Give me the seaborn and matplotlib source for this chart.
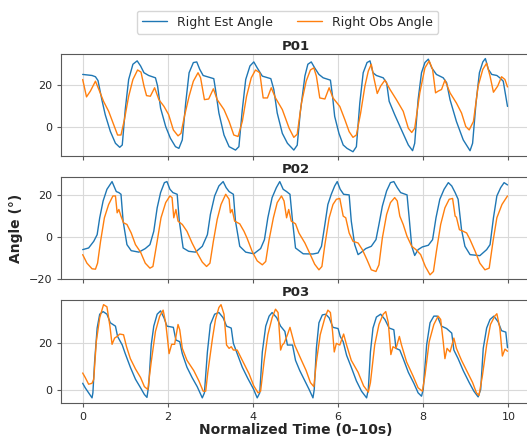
import matplotlib
matplotlib.use("Agg")
import matplotlib.pyplot as plt
from matplotlib.ticker import MultipleLocator
import seaborn as sns

# P01 - estimated / observed right angle (deg), time in normalized seconds
p01_est_t = [0.00, 0.22, 0.30, 0.36, 0.45, 0.53, 0.65, 0.77, 0.87, 0.93,
             1.00, 1.08, 1.18, 1.28, 1.36, 1.44, 1.55, 1.71, 1.76, 1.83,
             1.95, 2.06, 2.18, 2.26, 2.34, 2.42, 2.50, 2.60, 2.68, 2.75,
             2.83, 3.08, 3.12, 3.20, 3.32, 3.44, 3.59, 3.67, 3.75, 3.83,
             3.93, 4.02, 4.10, 4.22, 4.42, 4.49, 4.57, 4.69, 4.81, 4.96,
             5.04, 5.11, 5.22, 5.29, 5.37, 5.45, 5.55, 5.65, 5.82, 5.87,
             5.92, 6.02, 6.12, 6.21, 6.35, 6.43, 6.51, 6.59, 6.68, 6.75,
             6.82, 6.90, 7.06, 7.14, 7.20, 7.33, 7.49, 7.65, 7.75, 7.80,
             7.88, 7.96, 8.04, 8.12, 8.20, 8.31, 8.47, 8.55, 8.63, 8.78,
             8.94, 9.10, 9.16, 9.24, 9.32, 9.40, 9.46, 9.53, 9.61, 9.73,
             9.80, 9.88, 9.98]
p01_est = [24.9, 24.4, 23.8, 22.0, 13.0, 5.9, -2.0, -7.6, -9.5, -8.4,
           8.3, 22.5, 29.7, 31.3, 28.9, 25.7, 24.4, 23.3, 19.4, 9.0,
           0.3, -5.2, -9.2, -10.0, -6.0, 11.4, 25.7, 30.5, 30.8, 27.3,
           24.4, 22.9, 17.8, 6.7, -3.7, -9.2, -10.8, -9.2, 8.3, 22.5,
           28.9, 30.8, 28.0, 24.1, 22.9, 17.8, 6.7, -2.9, -7.6, -10.8,
           -8.5, 6.7, 24.1, 29.7, 30.8, 28.0, 24.9, 23.3, 22.2, 14.6,
           5.1, -2.9, -8.4, -10.0, -11.6, -9.2, 11.4, 25.7, 30.5, 31.3,
           25.7, 24.4, 23.3, 21.0, 12.2, 5.9, -1.3, -8.4, -11.1, -7.6,
           13.0, 25.7, 30.5, 32.1, 28.0, 24.9, 23.3, 21.0, 13.0, 2.7,
           -6.0, -11.1, -7.6, 11.4, 25.7, 30.8, 32.4, 27.3, 24.9, 24.4,
           23.3, 21.7, 9.8]
p01_obs_t = [0.00, 0.09, 0.18, 0.30, 0.38, 0.49, 0.61, 0.73, 0.82, 0.90,
             0.98, 1.08, 1.18, 1.29, 1.37, 1.44, 1.50, 1.59, 1.69, 1.79,
             1.91, 2.02, 2.13, 2.24, 2.31, 2.39, 2.50, 2.60, 2.71, 2.77,
             2.86, 2.96, 3.07, 3.16, 3.32, 3.44, 3.55, 3.65, 3.75, 3.85,
             3.96, 4.06, 4.16, 4.24, 4.34, 4.43, 4.53, 4.69, 4.85, 4.96,
             5.04, 5.14, 5.25, 5.35, 5.43, 5.49, 5.57, 5.69, 5.79, 5.88,
             6.04, 6.16, 6.26, 6.35, 6.43, 6.53, 6.63, 6.71, 6.78, 6.84,
             6.92, 7.00, 7.10, 7.22, 7.37, 7.53, 7.65, 7.73, 7.80, 7.92,
             8.04, 8.14, 8.22, 8.29, 8.35, 8.43, 8.51, 8.63, 8.78, 8.90,
             9.00, 9.08, 9.18, 9.29, 9.40, 9.49, 9.57, 9.65, 9.75, 9.84,
             9.92, 9.98]
p01_obs = [22.5, 14.3, 17.0, 21.7, 17.8, 12.2, 7.5, 1.1, -3.7, -3.7,
           3.5, 14.6, 22.5, 27.0, 26.0, 19.4, 14.9, 14.6, 18.6, 13.0,
           9.8, 5.9, -1.3, -4.1, -2.9, 5.1, 14.6, 21.7, 25.7, 23.3,
           13.0, 13.3, 18.1, 13.0, 8.3, 2.7, -3.7, -4.4, 2.7, 14.6,
           23.3, 27.0, 25.7, 13.8, 13.8, 18.6, 13.8, 8.3, -0.5, -4.8,
           -3.3, 11.4, 21.7, 27.0, 28.0, 24.1, 13.8, 13.3, 18.6, 13.8,
           9.8, 3.5, -2.1, -4.8, -3.7, 6.7, 19.4, 26.5, 29.7, 23.3,
           15.9, 19.4, 22.2, 17.8, 13.0, 7.5, -0.5, -2.5, -0.5, 16.2,
           28.0, 31.3, 27.3, 16.2, 17.0, 17.8, 22.2, 16.2, 11.4, 6.7,
           0.3, -1.3, 2.7, 19.4, 27.3, 30.2, 24.1, 16.5, 19.4, 23.8,
           22.5, 19.0]

# P02
p02_est_t = [0.00, 0.14, 0.26, 0.34, 0.40, 0.48, 0.57, 0.69, 0.75, 0.79,
             0.85, 0.90, 0.95, 1.04, 1.14, 1.32, 1.47, 1.58, 1.67, 1.75,
             1.83, 1.92, 1.98, 2.05, 2.12, 2.22, 2.27, 2.36, 2.49, 2.65,
             2.81, 2.93, 3.00, 3.10, 3.20, 3.30, 3.37, 3.44, 3.54, 3.59,
             3.69, 3.83, 4.02, 4.18, 4.27, 4.35, 4.45, 4.55, 4.63, 4.71,
             4.79, 4.87, 4.93, 5.00, 5.18, 5.41, 5.53, 5.61, 5.69, 5.76,
             5.84, 5.92, 5.98, 6.05, 6.13, 6.26, 6.31, 6.39, 6.47, 6.55,
             6.65, 6.78, 6.89, 6.96, 7.04, 7.14, 7.23, 7.31, 7.39, 7.47,
             7.62, 7.67, 7.73, 7.80, 7.88, 7.98, 8.12, 8.22, 8.30, 8.39,
             8.49, 8.59, 8.67, 8.75, 8.82, 8.90, 8.98, 9.10, 9.33, 9.49,
             9.57, 9.65, 9.73, 9.82, 9.90, 9.98]
p02_est = [-6.1, -5.3, -2.1, 1.1, 9.2, 17.3, 22.9, 26.6, 23.7, 21.8,
           21.3, 20.5, 7.6, -3.7, -6.6, -7.3, -5.6, -3.7, 2.7, 14.0,
           21.3, 26.1, 26.6, 22.9, 21.3, 20.5, 7.6, -5.3, -6.9, -7.3,
           -4.5, 1.1, 10.8, 19.7, 24.5, 26.6, 23.7, 21.8, 20.5, 7.6,
           -4.5, -7.3, -8.1, -5.6, -1.3, 9.2, 18.9, 23.7, 26.6, 22.9,
           21.8, 20.5, 7.6, -5.3, -8.1, -8.2, -7.7, -4.5, 6.0, 15.6,
           20.5, 24.5, 26.6, 22.9, 20.5, 20.2, 7.6, -3.7, -8.5, -7.3,
           -5.6, -4.5, -1.3, 6.0, 14.8, 22.1, 26.1, 26.6, 23.7, 21.3,
           20.2, 9.2, -4.5, -8.9, -6.1, -4.8, -4.0, -1.3, 9.2, 18.1,
           22.9, 26.1, 24.5, 21.3, 18.1, 3.5, -4.5, -8.5, -9.0, -6.1,
           -3.7, 9.2, 19.7, 23.7, 26.1, 25.0]
p02_obs_t = [0.00, 0.10, 0.22, 0.30, 0.35, 0.42, 0.51, 0.61, 0.71, 0.77,
             0.81, 0.85, 0.90, 0.96, 1.04, 1.14, 1.24, 1.36, 1.47, 1.58,
             1.65, 1.75, 1.84, 1.95, 2.05, 2.10, 2.14, 2.19, 2.24, 2.34,
             2.45, 2.57, 2.69, 2.81, 2.91, 2.99, 3.07, 3.16, 3.25, 3.36,
             3.44, 3.47, 3.51, 3.57, 3.69, 3.79, 3.86, 3.98, 4.10, 4.22,
             4.30, 4.38, 4.48, 4.57, 4.67, 4.73, 4.79, 4.84, 4.90, 5.00,
             5.08, 5.22, 5.33, 5.45, 5.55, 5.62, 5.69, 5.79, 5.88, 5.96,
             6.04, 6.12, 6.18, 6.26, 6.35, 6.47, 6.57, 6.68, 6.78, 6.89,
             6.96, 7.04, 7.14, 7.23, 7.33, 7.39, 7.45, 7.53, 7.62, 7.73,
             7.83, 7.94, 8.05, 8.16, 8.24, 8.31, 8.41, 8.51, 8.61, 8.69,
             8.75, 8.78, 8.85, 8.94, 9.02, 9.10, 9.22, 9.33, 9.45, 9.55,
             9.64, 9.73, 9.85, 9.98]
p02_obs = [-8.5, -12.6, -15.3, -15.5, -12.6, -2.1, 9.2, 15.6, 19.7, 19.7,
           11.6, 13.2, 10.0, 6.8, 6.0, 1.9, -3.7, -7.3, -12.6, -15.0,
           -14.2, -2.1, 9.2, 16.5, 19.7, 18.9, 9.2, 13.2, 7.6, 6.0,
           2.7, -2.9, -7.7, -12.1, -14.2, -12.6, -2.1, 8.4, 15.6, 20.5,
           18.1, 11.6, 13.2, 7.6, 6.3, 2.7, -0.5, -6.9, -11.5, -13.4,
           -11.8, -1.3, 9.2, 16.5, 19.7, 17.3, 9.2, 13.2, 7.6, 6.3,
           1.9, -2.9, -7.7, -13.1, -15.8, -14.2, -3.7, 9.2, 15.6, 18.1,
           18.5, 10.0, 9.2, 1.9, -2.1, -2.9, -6.1, -11.0, -15.8, -16.6,
           -13.4, -0.5, 10.8, 16.5, 18.9, 17.3, 10.0, 6.0, 0.3, -4.5,
           -6.1, -8.5, -14.2, -18.2, -16.6, -6.9, 6.0, 14.0, 18.1, 18.5,
           10.0, 9.5, 3.5, 2.7, 1.9, -1.3, -6.9, -12.6, -15.8, -15.0,
           -2.1, 9.2, 15.6, 19.7]

# P03
p03_est_t = [0.00, 0.06, 0.14, 0.22, 0.24, 0.28, 0.34, 0.40, 0.48, 0.57,
             0.65, 0.77, 0.82, 0.93, 1.00, 1.12, 1.24, 1.36, 1.45, 1.51,
             1.55, 1.61, 1.67, 1.75, 1.83, 1.91, 1.98, 2.13, 2.19, 2.28,
             2.34, 2.45, 2.57, 2.69, 2.81, 2.86, 2.93, 3.00, 3.10, 3.20,
             3.30, 3.38, 3.49, 3.54, 3.63, 3.75, 3.88, 4.01, 4.10, 4.16,
             4.22, 4.30, 4.38, 4.45, 4.56, 4.65, 4.75, 4.81, 4.93, 5.00,
             5.10, 5.22, 5.32, 5.41, 5.44, 5.49, 5.55, 5.63, 5.71, 5.79,
             5.88, 6.00, 6.05, 6.12, 6.20, 6.31, 6.43, 6.55, 6.67, 6.71,
             6.76, 6.82, 6.90, 7.00, 7.10, 7.20, 7.31, 7.36, 7.45, 7.53,
             7.65, 7.78, 7.88, 7.96, 8.00, 8.08, 8.16, 8.25, 8.33, 8.43,
             8.55, 8.67, 8.72, 8.82, 8.94, 9.08, 9.19, 9.29, 9.35, 9.41,
             9.49, 9.57, 9.66, 9.76, 9.84, 9.94, 9.98]
p03_est = [3.0, 1.1, -1.0, -3.1, -1.0, 11.9, 26.1, 31.9, 33.0, 31.9,
           28.3, 26.9, 22.6, 19.0, 15.4, 9.7, 4.7, 1.1, -1.7, -2.9,
           1.9, 19.0, 26.9, 31.9, 33.3, 30.4, 26.9, 26.4, 21.1, 20.4,
           15.4, 9.7, 5.4, 1.6, -3.1, -1.0, 16.1, 27.6, 31.9, 32.6,
           30.4, 26.9, 26.1, 19.7, 15.4, 9.7, 5.0, 0.7, -3.1, -1.0,
           16.1, 26.9, 31.1, 32.6, 30.4, 26.9, 24.7, 19.0, 19.0, 12.6,
           8.3, 4.0, 0.4, -3.1, 0.4, 17.6, 28.3, 31.6, 31.9, 30.4,
           26.4, 25.9, 22.6, 20.4, 14.7, 9.7, 4.0, -0.3, -3.1, 0.4,
           16.1, 26.1, 30.7, 31.9, 29.7, 26.1, 25.4, 17.6, 16.9, 13.3,
           7.6, 3.0, -1.0, -2.4, 0.4, 19.0, 28.3, 31.1, 31.1, 26.9,
           25.9, 24.0, 16.9, 13.3, 8.3, 3.3, -0.3, -2.7, 0.4, 17.6,
           26.1, 29.7, 31.1, 28.7, 25.0, 24.4, 17.9]
p03_obs_t = [0.00, 0.06, 0.14, 0.22, 0.26, 0.32, 0.40, 0.49, 0.57, 0.64,
             0.69, 0.75, 0.81, 0.87, 0.96, 1.03, 1.12, 1.24, 1.36, 1.45,
             1.53, 1.61, 1.71, 1.81, 1.89, 1.95, 2.00, 2.03, 2.09, 2.16,
             2.24, 2.28, 2.34, 2.45, 2.61, 2.73, 2.83, 2.89, 2.94, 3.05,
             3.12, 3.20, 3.25, 3.32, 3.38, 3.44, 3.49, 3.54, 3.63, 3.75,
             3.91, 4.02, 4.12, 4.18, 4.26, 4.35, 4.45, 4.53, 4.59, 4.65,
             4.69, 4.73, 4.81, 4.87, 4.98, 5.14, 5.25, 5.35, 5.43, 5.49,
             5.58, 5.69, 5.76, 5.82, 5.87, 5.91, 5.96, 6.04, 6.13, 6.20,
             6.31, 6.47, 6.60, 6.71, 6.76, 6.86, 6.96, 7.06, 7.12, 7.18,
             7.24, 7.29, 7.36, 7.44, 7.49, 7.61, 7.76, 7.88, 7.98, 8.04,
             8.14, 8.25, 8.35, 8.41, 8.47, 8.51, 8.56, 8.63, 8.72, 8.78,
             8.90, 9.02, 9.16, 9.25, 9.31, 9.39, 9.49, 9.58, 9.68, 9.73,
             9.80, 9.86, 9.92, 9.98]
p03_obs = [7.3, 5.4, 2.6, 3.0, 4.7, 20.4, 30.4, 35.9, 35.0, 26.9,
           19.3, 21.9, 22.6, 23.6, 23.3, 18.3, 13.3, 9.0, 5.4, 1.6,
           0.4, 11.9, 24.7, 31.1, 33.6, 28.3, 20.4, 15.4, 19.3, 19.3,
           27.6, 25.4, 17.6, 12.6, 8.3, 4.0, -0.3, -0.3, 7.6, 21.9,
           29.7, 34.7, 35.9, 31.9, 19.0, 17.6, 18.3, 16.9, 16.9, 12.6,
           6.9, 1.9, -1.0, -0.3, 11.9, 23.3, 30.4, 34.0, 32.6, 16.9,
           19.0, 19.7, 23.3, 26.4, 19.0, 12.6, 8.3, 3.3, 1.6, 11.9,
           23.3, 30.4, 33.6, 32.6, 24.7, 16.1, 19.7, 19.0, 23.6, 19.0,
           12.6, 7.6, 1.9, -0.7, 3.3, 19.0, 27.6, 31.9, 33.0, 28.3,
           15.0, 18.3, 17.6, 22.6, 19.0, 11.9, 6.1, 1.1, -0.3, 6.1,
           20.4, 27.6, 31.1, 29.7, 20.4, 13.3, 17.6, 16.1, 21.9, 17.6,
           12.6, 8.3, 3.3, -1.0, -2.1, 6.1, 19.0, 27.6, 31.1, 32.1,
           26.1, 14.4, 17.3, 16.4]

participants = ["P01", "P02", "P03"]
est_series = [(p01_est_t, p01_est), (p02_est_t, p02_est), (p03_est_t, p03_est)]
obs_series = [(p01_obs_t, p01_obs), (p02_obs_t, p02_obs), (p03_obs_t, p03_obs)]

sns.set_style("whitegrid", {
    "axes.edgecolor": "0.35",
    "grid.color": "0.85",
    "xtick.bottom": True,
    "ytick.left": True,
})
plt.rcParams["font.family"] = ["DejaVu Sans"]

fig, axes = plt.subplots(3, 1, figsize=(5.27, 4.38), dpi=100, sharex=True)
fig.subplots_adjust(left=0.1165, right=1.005, top=0.877, bottom=0.081, hspace=0.2)

for ax, name, (te, ve), (to, vo) in zip(axes, participants, est_series, obs_series):
    sns.lineplot(x=te, y=ve, ax=ax, color="#1f77b4", linewidth=1.0,
                 sort=False, estimator=None, label="Right Est Angle")
    sns.lineplot(x=to, y=vo, ax=ax, color="#ff7f0e", linewidth=1.0,
                 sort=False, estimator=None, label="Right Obs Angle")
    ax.set_title(name, fontsize=9.5, fontweight="bold", pad=3)
    ax.yaxis.set_major_locator(MultipleLocator(20))
    ax.tick_params(labelsize=8, length=3, color="0.35")
    ax.set_xlim(-0.5, 10.5)
    ax.set_ylabel("")
    ax.get_legend().remove()
    for s in ax.spines.values():
        s.set_linewidth(0.8)

handles, labels = axes[0].get_legend_handles_labels()
fig.legend(handles, labels, loc="upper center", ncol=2, fontsize=9,
           bbox_to_anchor=(0.5455, 0.99), frameon=True)

axes[1].set_ylabel("Angle (°)", fontsize=10, fontweight="bold")
axes[2].set_xlabel("Normalized Time (0–10s)", fontsize=10, fontweight="bold", labelpad=1)
axes[2].set_xticks([0, 2, 4, 6, 8, 10])

fig.savefig("out.png", dpi=100)
